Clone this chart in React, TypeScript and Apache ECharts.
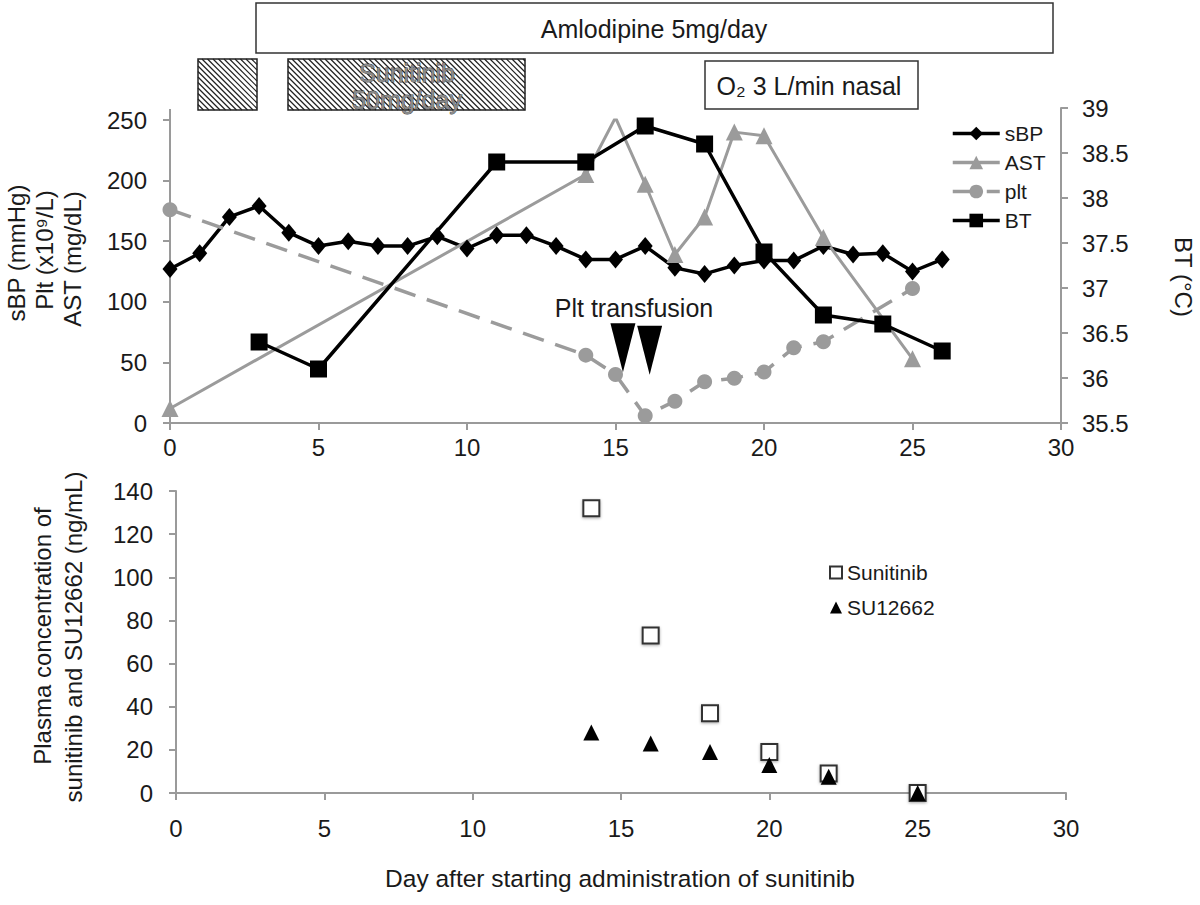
import React, { useEffect, useRef } from 'react';
import * as echarts from 'echarts';

const FONT = "'Liberation Sans', Arial, Helvetica, sans-serif";
const TXT = '#1a1a1a';
const AX = '#9a9a9a';
const GRAY = '#9b9b9b';

// ---- data ----
const sbpDays = [0, 1, 2, 3, 4, 5, 6, 7, 8, 9, 10, 11, 12, 13, 14, 15, 16, 17, 18, 19, 20, 21, 22, 23, 24, 25, 26];
const sbpValues = [127, 140, 170, 179, 157, 146, 150, 146, 146, 154, 144, 155, 155, 146, 135, 135, 146, 128, 123, 130, 134, 134, 146, 139, 140, 125, 135];
const astDays = [0, 14, 15, 16, 17, 18, 19, 20, 22, 25];
const astValues = [12, 205, 252, 197, 139, 170, 240, 237, 153, 53];
const pltDays = [0, 14, 15, 16, 17, 18, 19, 20, 21, 22, 25];
const pltValues = [176, 56, 40, 6, 18, 34, 37, 42, 62, 67, 111];
const btDays = [3, 5, 11, 14, 16, 18, 20, 22, 24, 26];
const btValues = [36.4, 36.1, 38.4, 38.4, 38.8, 38.6, 37.4, 36.7, 36.6, 36.3];
const transfusionDays = [15.25, 16.15];
const transfusionLevels = [62, 60];
const concDays = [14, 16, 18, 20, 22, 25];
const sunitinibValues = [132, 73, 37, 19, 9, 0];
const su12662Values = [28, 23, 19, 13, 7.5, 0];

const xTicks = { min: 0, max: 30, interval: 5 };
const leftTicks = { min: 0, max: 250, interval: 50 };
const rightTicks = { min: 35.5, max: 39, interval: 0.5 };
const concTicks = { min: 0, max: 140, interval: 20 };

const pairs = (xs: number[], ys: number[]) => xs.map((x, i) => [x, ys[i]]);

function hatch(x0: number, y0: number, w: number, h: number, step: number) {
  const els: any[] = [
    { type: 'rect', shape: { x: x0, y: y0, width: w, height: h }, style: { fill: '#fff', stroke: 'none' }, silent: true },
  ];
  for (let c = -h; c < w; c += step) {
    const tmin = Math.max(0, -c);
    const tmax = Math.min(h, w - c);
    if (tmax > tmin) {
      els.push({
        type: 'line',
        shape: { x1: x0 + c + tmin, y1: y0 + tmin, x2: x0 + c + tmax, y2: y0 + tmax },
        style: { stroke: '#222', lineWidth: 1.2 },
        silent: true,
      });
    }
  }
  els.push({ type: 'rect', shape: { x: x0, y: y0, width: w, height: h }, style: { fill: 'none', stroke: '#222', lineWidth: 1.5 }, silent: true });
  return els;
}

const axisCommon = (labelMargin: number) => ({
  axisLine: { show: true, onZero: false, lineStyle: { color: AX, width: 2 } },
  axisTick: { show: true, inside: false, length: 7, lineStyle: { color: AX, width: 2 } },
  splitLine: { show: false },
  axisLabel: { fontSize: 24, color: TXT, fontFamily: FONT, margin: labelMargin },
});

const text = (t: string, x: number, y: number, size: number, rot = 0, extra: any = {}) => ({
  type: 'text',
  x,
  y,
  rotation: rot,
  silent: true,
  style: { text: t, x: 0, y: 0, fill: TXT, fontSize: size, fontFamily: FONT, textAlign: 'center', textVerticalAlign: 'middle', ...extra },
});

function buildOption() {
  const graphics: any[] = [
    { type: 'rect', shape: { x: 256, y: 3, width: 797, height: 50 }, style: { fill: '#fff', stroke: '#333', lineWidth: 1.5 }, silent: true },
    text('Amlodipine 5mg/day', 654, 29, 25),
    ...hatch(198, 59, 59, 51, 5.5),
    ...hatch(288, 59, 237, 51, 5.5),
    text('Sunitinib', 407, 73, 25, 0, { fill: '#8a8a8a', stroke: '#333', lineWidth: 0.8 }),
    text('50mg/day', 407, 100, 25, 0, { fill: '#8a8a8a', stroke: '#333', lineWidth: 0.8 }),
    { type: 'rect', shape: { x: 705, y: 61, width: 213, height: 48 }, style: { fill: '#fff', stroke: '#333', lineWidth: 1.5 }, silent: true },
    text('O₂ 3 L/min nasal', 809, 86, 25),
    text('Plt transfusion', 634, 308, 25),
    { type: 'line', shape: { x1: 170, y1: 109, x2: 170, y2: 121 }, style: { stroke: AX, lineWidth: 2 }, silent: true },
    text('sBP (mmHg)', 16, 253, 24, Math.PI / 2),
    text('Plt (x10⁹/L)', 44, 250, 24, Math.PI / 2),
    text('AST (mg/dL)', 72, 259, 24, Math.PI / 2),
    text('BT (°C)', 1183, 277, 24, -Math.PI / 2),
    text('Plasma concentration of', 42, 636, 24, Math.PI / 2),
    text('sunitinib and SU12662 (ng/mL)', 73, 637, 24, Math.PI / 2),
    text('Day after starting administration of sunitinib', 620, 878, 24.5),
  ];

  return {
    animation: false,
    backgroundColor: '#fff',
    textStyle: { fontFamily: FONT },
    grid: [
      { left: 170, top: 120, width: 891, height: 303 },
      { left: 170, top: 108, width: 891, height: 315 },
      { left: 176, top: 491, width: 890, height: 302 },
    ],
    xAxis: [
      { gridIndex: 0, type: 'value', ...xTicks, ...axisCommon(12) },
      { gridIndex: 1, type: 'value', ...xTicks, show: false },
      { gridIndex: 2, type: 'value', ...xTicks, ...axisCommon(23) },
    ],
    yAxis: [
      { gridIndex: 0, type: 'value', position: 'left', ...leftTicks, ...axisCommon(23) },
      { gridIndex: 1, type: 'value', position: 'right', ...rightTicks, ...axisCommon(21) },
      { gridIndex: 2, type: 'value', position: 'left', ...concTicks, ...axisCommon(23) },
    ],
    legend: [
      {
        data: ['sBP', 'AST', 'plt', 'BT'],
        orient: 'vertical',
        left: 951,
        top: 123,
        padding: 0,
        itemWidth: 47,
        itemHeight: 17,
        itemGap: 8,
        lineStyle: { width: 3.5 },
        textStyle: { fontSize: 21, color: TXT, fontFamily: FONT, lineHeight: 21 },
      },
      {
        data: ['Sunitinib', 'SU12662'],
        orient: 'vertical',
        left: 829,
        top: 562,
        padding: 0,
        itemWidth: 12,
        itemHeight: 12,
        itemGap: 14,
        textStyle: { fontSize: 21, color: TXT, fontFamily: FONT, lineHeight: 21 },
      },
    ],
    series: [
      {
        name: 'sBP', type: 'line', xAxisIndex: 0, yAxisIndex: 0,
        data: pairs(sbpDays, sbpValues),
        symbol: 'diamond', symbolSize: [15, 18],
        lineStyle: { color: '#000', width: 3.5 }, itemStyle: { color: '#000' },
      },
      {
        name: 'AST', type: 'line', xAxisIndex: 0, yAxisIndex: 0,
        data: pairs(astDays, astValues),
        symbol: 'triangle', symbolSize: 17,
        lineStyle: { color: GRAY, width: 3 }, itemStyle: { color: GRAY },
      },
      {
        name: 'plt', type: 'line', xAxisIndex: 0, yAxisIndex: 0,
        data: pairs(pltDays, pltValues),
        symbol: 'circle', symbolSize: 15,
        lineStyle: { color: GRAY, width: 3.5, type: [22, 12] }, itemStyle: { color: GRAY },
      },
      {
        name: 'BT', type: 'line', xAxisIndex: 1, yAxisIndex: 1,
        data: pairs(btDays, btValues),
        symbol: 'rect', symbolSize: 17,
        lineStyle: { color: '#000', width: 3.5 }, itemStyle: { color: '#000' },
      },
      {
        name: 'transfusion', type: 'scatter', xAxisIndex: 0, yAxisIndex: 0,
        data: pairs(transfusionDays, transfusionLevels),
        symbol: 'path://M0,0L10,0L5,20Z', symbolSize: [25, 49], symbolKeepAspect: false,
        itemStyle: { color: '#000', opacity: 1 }, silent: true, z: 5,
      },
      {
        name: 'Sunitinib', type: 'scatter', xAxisIndex: 2, yAxisIndex: 2,
        data: pairs(concDays, sunitinibValues),
        symbol: 'rect', symbolSize: 16,
        itemStyle: { color: '#fff', opacity: 1, borderColor: '#333', borderWidth: 2, shadowBlur: 3, shadowColor: 'rgba(0,0,0,0.35)', shadowOffsetY: 1 },
      },
      {
        name: 'SU12662', type: 'scatter', xAxisIndex: 2, yAxisIndex: 2,
        data: pairs(concDays, su12662Values),
        symbol: 'triangle', symbolSize: 16,
        itemStyle: { color: '#000', opacity: 1 },
      },
    ],
    graphic: graphics,
  };
}

export default function App() {
  const ref = useRef<HTMLDivElement>(null);
  useEffect(() => {
    document.body.style.margin = '0';
    const chart = echarts.init(ref.current as HTMLDivElement, null, { renderer: 'svg' });
    chart.setOption(buildOption() as any);
    return () => chart.dispose();
  }, []);
  return <div ref={ref} style={{ width: 1200, height: 905, background: '#fff' }} />;
}
